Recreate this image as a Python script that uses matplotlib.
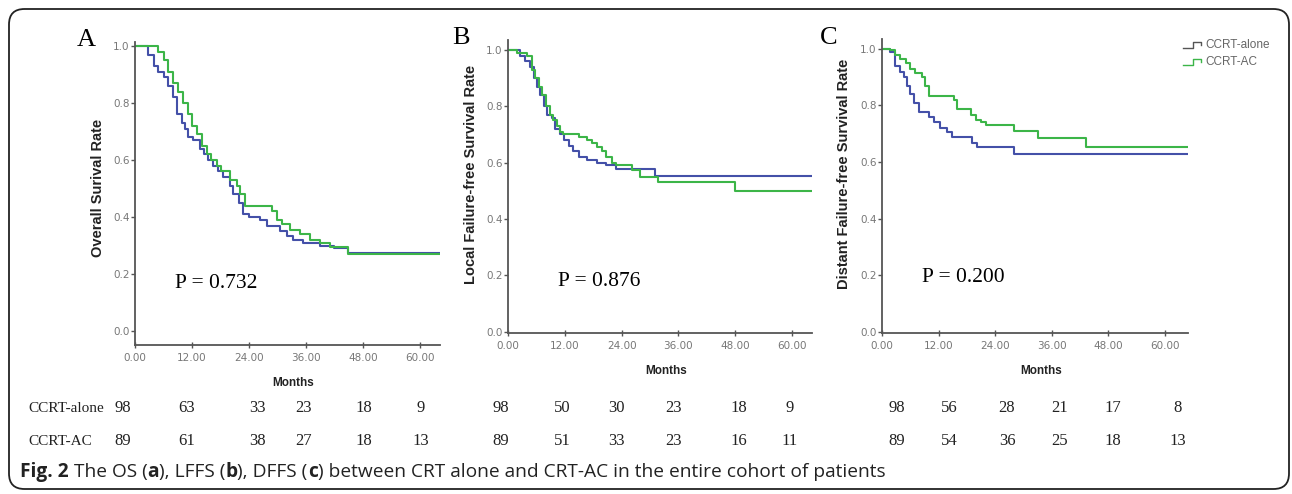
import matplotlib
matplotlib.use("Agg")
import matplotlib.pyplot as plt
from matplotlib.lines import Line2D
from matplotlib.patches import FancyBboxPatch

# ---- data (months, survival) ----
os_alone_t = [0, 2.8, 3.9, 4.9, 6.0, 7.0, 7.9, 8.8, 9.8, 10.5, 11.2, 12.3, 13.7, 14.5, 15.4,
              16.5, 17.5, 18.6, 19.9, 20.7, 21.8, 22.8, 23.9, 26.3, 27.7, 30.5, 31.9, 33.3,
              35.4, 38.9, 41.8, 44.9, 64.2]
os_alone_s = [1.0, 0.97, 0.93, 0.91, 0.89, 0.86, 0.82, 0.76, 0.73, 0.71, 0.68, 0.67, 0.64, 0.62, 0.60,
              0.58, 0.56, 0.54, 0.51, 0.48, 0.45, 0.41, 0.40, 0.39, 0.37, 0.35, 0.335, 0.32,
              0.31, 0.30, 0.29, 0.275, 0.275]
os_ac_t = [0, 4.9, 6.0, 7.0, 8.1, 9.1, 10.2, 11.2, 12.1, 13.0, 14.0, 15.1, 16.1, 17.2, 18.2,
           20.0, 21.4, 22.1, 23.2, 28.8, 29.8, 30.9, 32.6, 34.7, 36.8, 38.9, 41.1, 44.9, 64.2]
os_ac_s = [1.0, 0.98, 0.95, 0.91, 0.87, 0.84, 0.80, 0.76, 0.72, 0.69, 0.65, 0.62, 0.60, 0.58, 0.56,
           0.53, 0.51, 0.48, 0.44, 0.42, 0.39, 0.375, 0.356, 0.34, 0.32, 0.31, 0.294, 0.272, 0.272]

lffs_alone_t = [0, 2.6, 3.6, 4.7, 5.4, 6.1, 6.8, 7.5, 8.2, 9.3, 10.0, 11.0, 11.9, 12.8, 13.8,
                14.9, 16.6, 18.7, 20.8, 22.9, 31.0, 64.2]
lffs_alone_s = [1.0, 0.98, 0.96, 0.94, 0.90, 0.87, 0.84, 0.80, 0.77, 0.76, 0.72, 0.70, 0.68, 0.66, 0.64,
                0.62, 0.61, 0.60, 0.59, 0.576, 0.553, 0.553]
lffs_ac_t = [0, 1.9, 4.0, 5.1, 5.8, 6.5, 7.2, 8.1, 8.9, 9.6, 10.3, 11.0, 11.7, 14.9, 16.6,
             17.7, 18.7, 19.8, 20.8, 21.9, 22.9, 26.1, 27.9, 31.7, 47.9, 64.2]
lffs_ac_s = [1.0, 0.99, 0.98, 0.93, 0.90, 0.87, 0.84, 0.80, 0.77, 0.75, 0.73, 0.71, 0.70, 0.69, 0.68,
             0.67, 0.655, 0.64, 0.62, 0.60, 0.59, 0.574, 0.55, 0.532, 0.50, 0.50]

dffs_alone_t = [0, 1.8, 2.7, 3.8, 4.6, 5.3, 6.0, 6.7, 7.8, 9.9, 11.0, 12.4, 13.8, 14.9,
                19.1, 20.2, 28.0, 64.9]
dffs_alone_s = [1.0, 0.99, 0.94, 0.92, 0.90, 0.87, 0.84, 0.81, 0.777, 0.76, 0.74, 0.72, 0.706, 0.688,
                0.667, 0.652, 0.629, 0.629]
dffs_ac_t = [0, 1.8, 2.8, 3.9, 5.0, 6.0, 7.1, 8.5, 9.2, 9.9, 15.2, 16.0, 18.8, 19.9, 20.9,
             22.0, 28.0, 33.0, 43.3, 64.9]
dffs_ac_s = [1.0, 0.995, 0.98, 0.965, 0.95, 0.93, 0.915, 0.90, 0.87, 0.834, 0.82, 0.786, 0.765, 0.748, 0.74,
             0.73, 0.71, 0.685, 0.652, 0.652]

p_values = ["P = 0.732", "P = 0.876", "P = 0.200"]
ylabels = ["Overall Surival Rate", "Local Failure-free Survival Rate", "Distant Failure-free Survival Rate"]
letters = ["A", "B", "C"]
groups = ["CCRT-alone", "CCRT-AC"]

risk_alone = [[98, 63, 33, 23, 18, 9], [98, 50, 30, 23, 18, 9], [98, 56, 28, 21, 17, 8]]
risk_ac = [[89, 61, 38, 27, 18, 13], [89, 51, 33, 23, 16, 11], [89, 54, 36, 25, 18, 13]]

# ---- layout (pixels in the 1292x494 picture) ----
W, H = 1292, 494
BLUE = "#4450a8"
GREEN = "#3cb548"
AXC = "#555555"


def fx(x):
    return x / W


def fy(y):
    return 1 - y / H


fig = plt.figure(figsize=(W / 100, H / 100), dpi=100)

# (left, right, top, bottom pixel of axes box, ymin, ymax, xmax)
boxes = [
    (135, 440, 42, 345, -0.049, 1.014, 64.2),
    (508, 812, 40, 333, -0.004, 1.035, 64.2),
    (882, 1188, 39, 333, -0.004, 1.035, 64.9),
]
curves = [
    (os_alone_t, os_alone_s, os_ac_t, os_ac_s),
    (lffs_alone_t, lffs_alone_s, lffs_ac_t, lffs_ac_s),
    (dffs_alone_t, dffs_alone_s, dffs_ac_t, dffs_ac_s),
]
letter_pos = [(86, 40), (461, 38), (829, 38)]
p_pos = [(175, 283), (558, 282), (922, 278)]
ylab_y = [0.52, 0.54, 0.54]
mlab_y = [-0.105, -0.11, -0.11]
risk_x = [
    [123, 187, 257, 304, 364, 421],
    [501, 562, 616, 674, 739, 790],
    [897, 949, 1007, 1060, 1113, 1178],
]

for i, (l, r, t, b, y0, y1, xmax) in enumerate(boxes):
    ax = fig.add_axes([fx(l), fy(b), (r - l) / W, (b - t) / H])
    ta, sa, tc, sc = curves[i]
    ax.plot(ta, sa, drawstyle="steps-post", color=BLUE, lw=1.5)
    ax.plot(tc, sc, drawstyle="steps-post", color=GREEN, lw=1.5)
    ax.set_xlim(0, xmax)
    ax.set_ylim(y0, y1)
    ax.set_xticks([0, 12, 24, 36, 48, 60])
    ax.set_xticklabels(["%.2f" % v for v in [0, 12, 24, 36, 48, 60]])
    ax.set_yticks([0, 0.2, 0.4, 0.6, 0.8, 1.0])
    ax.set_yticklabels(["%.1f" % v for v in [0, 0.2, 0.4, 0.6, 0.8, 1.0]])
    for s in ["top", "right"]:
        ax.spines[s].set_visible(False)
    for s in ["left", "bottom"]:
        ax.spines[s].set_color(AXC)
        ax.spines[s].set_linewidth(1.3)
    ax.tick_params(axis="x", direction="inout", length=5, width=1, color=AXC,
                   labelsize=7.5, labelcolor="#777777", pad=3)
    ax.tick_params(axis="y", direction="out", length=3, width=1, color=AXC,
                   labelsize=7.5, labelcolor="#777777", pad=1)
    ax.set_ylabel(ylabels[i], fontsize=10.5, fontweight="bold", color="#222222",
                  family="Liberation Sans")
    ax.yaxis.set_label_coords(-0.10, ylab_y[i])
    ax.set_xlabel("Months", fontsize=8.5, fontweight="bold", color="#222222",
                  family="Liberation Sans")
    ax.xaxis.set_label_coords(0.52, mlab_y[i])
    ax.patch.set_alpha(0)

    fig.text(fx(letter_pos[i][0]), fy(letter_pos[i][1]), letters[i], fontsize=19,
             family="Liberation Serif", ha="center", va="center")
    fig.text(fx(p_pos[i][0]), fy(p_pos[i][1]), p_values[i], fontsize=15.5,
             family="Liberation Serif", ha="left", va="center")

    for k in range(6):
        fig.text(fx(risk_x[i][k]), fy(408), str(risk_alone[i][k]), fontsize=12,
                 family="Liberation Serif", ha="center", va="center", color="#222222")
        fig.text(fx(risk_x[i][k]), fy(441), str(risk_ac[i][k]), fontsize=12,
                 family="Liberation Serif", ha="center", va="center", color="#222222")

# number-at-risk row labels
fig.text(fx(28), fy(408), groups[0], fontsize=11, family="Liberation Serif",
         ha="left", va="center", color="#222222")
fig.text(fx(28), fy(441), groups[1], fontsize=11, family="Liberation Serif",
         ha="left", va="center", color="#222222")

# legend (panel C)
for j, (col, yy) in enumerate([(AXC, 45), ("#3cb548", 62)]):
    xs = [1183, 1193, 1193, 1201, 1201]
    ys = [yy + 3, yy + 3, yy - 3, yy - 3, yy]
    fig.add_artist(Line2D([fx(v) for v in xs], [fy(v) for v in ys],
                          transform=fig.transFigure, color=col, lw=1))
    fig.text(fx(1205), fy(yy), groups[j], fontsize=8.5, family="Liberation Sans",
             color="#666666", ha="left", va="center")

# caption with mixed weights
segments = [("Fig. 2", "bold"), (" The OS (", "normal"), ("a", "bold"), ("), LFFS (", "normal"),
            ("b", "bold"), ("), DFFS (", "normal"), ("c", "bold"),
            (") between CRT alone and CRT-AC in the entire cohort of patients", "normal")]
fig.canvas.draw()
renderer = fig.canvas.get_renderer()
x = fx(20)
for txt, wt in segments:
    tt = fig.text(x, fy(472), txt, fontsize=13.8, family="Open Sans", fontweight=wt,
                  color="#222222", ha="left", va="center")
    bb = tt.get_window_extent(renderer=renderer)
    x = bb.x1 / fig.bbox.width

# rounded frame
frame = FancyBboxPatch((fx(9), fy(489)), fx(1289) - fx(9), fy(9) - fy(489),
                       boxstyle="round,pad=0,rounding_size=0.012",
                       transform=fig.transFigure, fill=False, ec="#222222", lw=1.3,
                       mutation_aspect=W / H)
fig.add_artist(frame)

fig.savefig("out.png", dpi=100)
